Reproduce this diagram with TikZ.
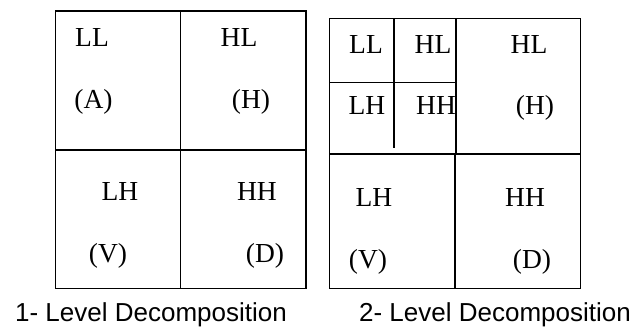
\documentclass[tikz,border=0pt]{standalone}
\usepackage{fontspec}
\setmainfont{Liberation Serif}
\newfontfamily\capfont{Liberation Sans}
\begin{document}
\begin{tikzpicture}[x=1pt,y=-1pt,line width=1.5pt,
  lbl/.style={font=\fontsize{27.5}{32}\selectfont,inner sep=0pt,anchor=base},
  captext/.style={font=\capfont\fontsize{26}{30}\selectfont,inner sep=0pt,anchor=base}]
\useasboundingbox (0,0) rectangle (637,329);

% one-level decomposition grid
\draw (55.5,11) rectangle (306,288.5);
\draw (180.7,11) -- (180.7,288.5);
\draw (55.5,150) -- (306,150);

\node[lbl] (l1ll) at (92,47) {LL};
\node[lbl] (l1a)  at (93.5,108) {(A)};
\node[lbl] (l1hl) at (239,47) {HL};
\node[lbl] (l1h)  at (251,108) {(H)};
\node[lbl] (l1lh) at (120,200) {LH};
\node[lbl] (l1v)  at (108,262) {(V)};
\node[lbl] (l1hh) at (257,200) {HH};
\node[lbl] (l1d)  at (265,262) {(D)};
\node[captext] (cap1) at (151,321) {1- Level Decomposition};

% two-level decomposition grid
\draw (329.5,18.5) rectangle (580.5,288.5);
\draw (456,18.5) -- (456,154);
\draw (455,154) -- (455,288.5);
\draw (329.5,154) -- (580.5,154);
\draw (394,18.5) -- (394,148.3);
\draw (329.5,82.3) -- (456,82.3);

\node[lbl] (l2ll)  at (366,53.3) {LL};
\node[lbl] (l2hls) at (433,53.3) {HL};
\node[lbl] (l2hl)  at (529,53.3) {HL};
\node[lbl] (l2lhs) at (367,114) {LH};
\node[lbl] (l2hhs) at (436,114) {HH};
\node[lbl] (l2h)   at (535,114) {(H)};
\node[lbl] (l2lh)  at (374,206.7) {LH};
\node[lbl] (l2hh)  at (525,206.7) {HH};
\node[lbl] (l2v)   at (368,268) {(V)};
\node[lbl] (l2d)   at (532,268) {(D)};
\node[captext] (cap2)  at (495,321) {2- Level Decomposition};
\end{tikzpicture}
\end{document}
